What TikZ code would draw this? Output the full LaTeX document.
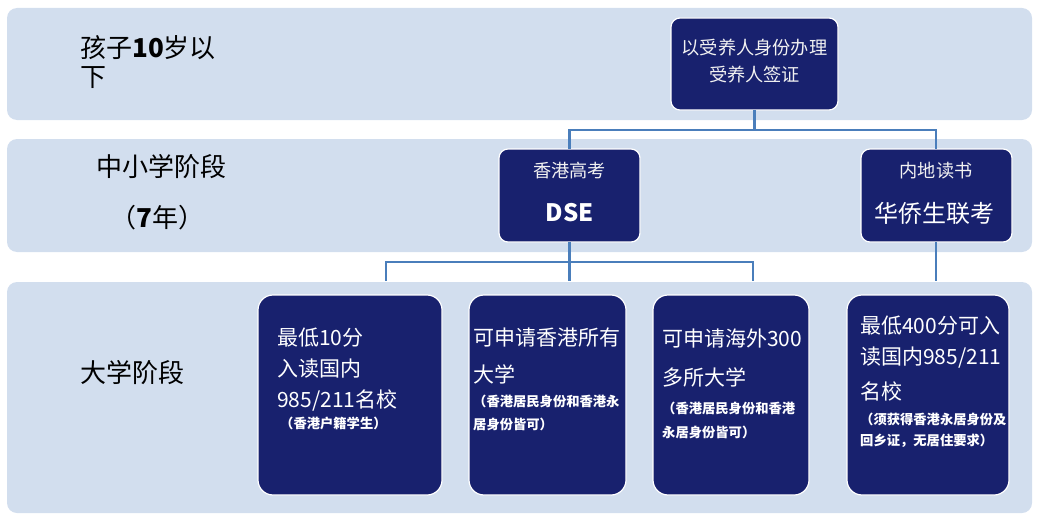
\documentclass[tikz,border=0pt]{standalone}
\usepackage{fontspec}
\setmainfont{Noto Sans CJK SC}
\definecolor{band}{HTML}{D2DEEE}
\definecolor{navy}{HTML}{18216E}
\definecolor{conn}{HTML}{4A7EBB}
\tikzset{
  bandbox/.style={fill=band, draw=none, rounded corners=10pt},
  navybox/.style={fill=navy, draw=white, line width=1.2pt, rounded corners=#1},
  navybox/.default=9pt,
  conline/.style={draw=conn, line width=2.2pt},
  wtxt/.style={text=white, inner sep=0pt, anchor=west, font=\fontsize{21}{23}\selectfont},
  stxt/.style={text=white, inner sep=0pt, anchor=west, font=\fontsize{13.3}{15}\selectfont\bfseries},
  ctxt/.style={text=white!90!gray, inner sep=0pt, font=\fontsize{18.2}{20}\selectfont},
  ltxt/.style={text=black, inner sep=0pt, anchor=west, font=\fontsize{26}{28}\selectfont},
}
\begin{document}
\begin{tikzpicture}[x=1pt,y=-1pt]
\useasboundingbox (0,0) rectangle (1039,519);
% bands
\path[bandbox] (7,8) rectangle (1032,120);
\path[bandbox] (7,139) rectangle (1032,252);
\path[bandbox] (7,282) rectangle (1032,513);
% band labels
\node[ltxt] (l1a) at (80,48) {孩子\textbf{10}岁以};
\node[ltxt] (l1b) at (80,78) {下};
\node[ltxt] (l2a) at (96,167) {中小学阶段};
\node[ltxt] (l2b) at (110,218) {（\textbf{7}年）};
\node[ltxt] (l3a) at (80,373) {大学阶段};
% top box
\path[navybox] (671,18) rectangle (838,110);
\node[ctxt] (t1) at (754.5,48) {以受养人身份办理};
\node[ctxt] (t2) at (754.5,75) {受养人签证};
\coordinate (topbot) at (754.5,110);
% row 2 boxes
\path[navybox] (499,149) rectangle (640,242);
\node[ctxt] (d1) at (569.5,171) {香港高考};
\node[text=white, inner sep=0pt, font=\fontsize{24}{26}\selectfont\bfseries] (d2) at (569.5,213) {DSE};
\coordinate (dsetop) at (569.5,149);
\coordinate (dsebot) at (569.5,242);
\path[navybox] (861,149) rectangle (1012,242);
\node[ctxt] (h1) at (936,171) {内地读书};
\node[text=white, inner sep=0pt, font=\fontsize{24}{26}\selectfont] (h2) at (934,213) {华侨生联考};
\coordinate (hqtop) at (936,149);
\coordinate (hqbot) at (936,242);
% top connectors
\coordinate (j1) at (754.5,130);
\draw[conline] (topbot) -- (j1);
\draw[conline] (dsetop) -- (569.5,130) -- (936,130) -- (hqtop);
% lower connectors
\coordinate (j2) at (569.5,262);
\coordinate (e1) at (386,281);
\coordinate (e2) at (569.5,281);
\coordinate (e3) at (753,281);
\coordinate (e4) at (936,281);
\draw[conline] (dsebot) -- (e2);
\draw[conline] (e1) -- (386,262) -- (753,262) -- (e3);
\draw[conline] (hqbot) -- (e4);
% bottom boxes
\path[navybox=15pt] (258,295) rectangle (442,495);
\path[navybox=15pt] (469,295) rectangle (626,495);
\path[navybox=15pt] (653,295) rectangle (809,495);
\path[navybox=15pt] (847,295) rectangle (1009,495);
% box 1 text
\node[wtxt] (a1) at (277,338) {最低10分};
\node[wtxt] (a2) at (277,369) {入读国内};
\node[wtxt] (a3) at (277,400) {985/211名校};
\node[stxt] (a4) at (280,423) {（香港户籍学生）};
% box 2 text
\node[wtxt] (b1) at (473,338) {可申请香港所有};
\node[wtxt] (b2) at (473,374) {大学};
\node[stxt] (b3) at (473,401) {（香港居民身份和香港永};
\node[stxt] (b4) at (473,424) {居身份皆可）};
% box 3 text
\node[wtxt] (c1) at (662,338) {可申请海外300};
\node[wtxt] (c2) at (662,377) {多所大学};
\node[stxt] (c3) at (662,408) {（香港居民身份和香港};
\node[stxt] (c4) at (662,432) {永居身份皆可）};
% box 4 text
\node[wtxt] (f1) at (860,326) {最低400分可入};
\node[wtxt] (f2) at (860,358) {读国内985/211};
\node[wtxt] (f3) at (860,391) {名校};
\node[stxt] (f4) at (860,419) {（须获得香港永居身份及};
\node[stxt] (f5) at (860,441) {回乡证，无居住要求）};
\end{tikzpicture}
\end{document}
